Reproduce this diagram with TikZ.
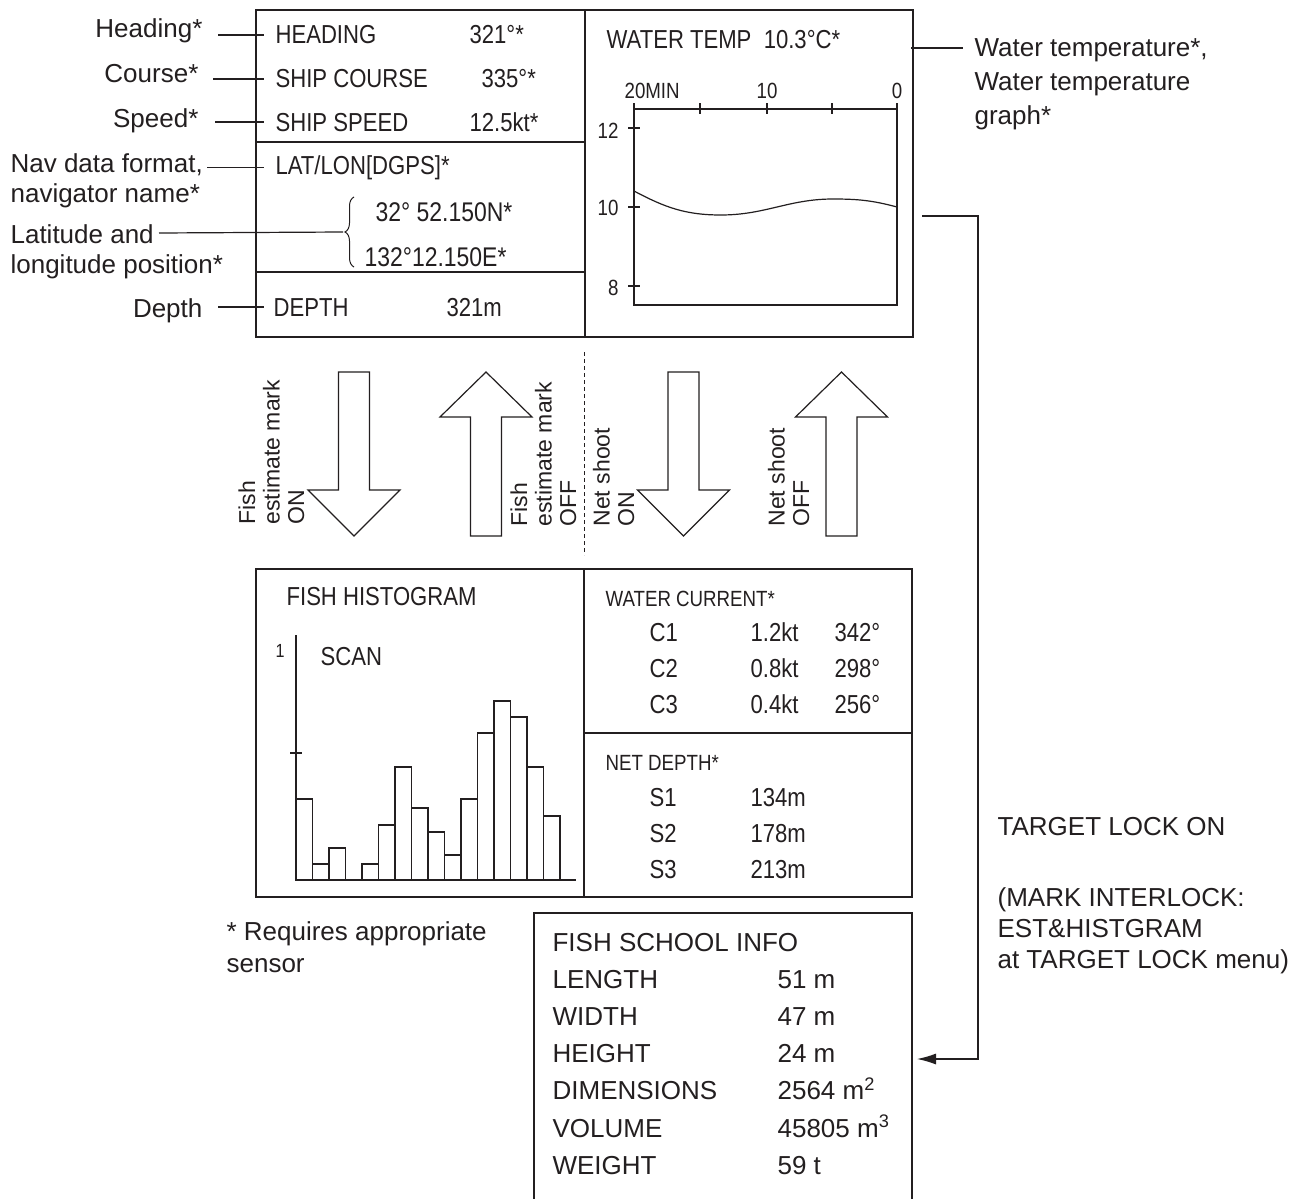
\documentclass[tikz,border=0pt]{standalone}
\usepackage{fontspec}
\setmainfont{Liberation Sans}
\newfontfamily\narrowfont[FakeStretch=0.85]{Liberation Sans}
\usepackage{xcolor}
\usepackage{tikz}
\usetikzlibrary{arrows.meta,positioning,decorations.pathreplacing}
\definecolor{inkgray}{RGB}{35,31,32}

\begin{document}
\begin{tikzpicture}[x=1pt,y=-1pt,>={Latex[length=19pt,width=11pt]},line width=1.2pt,color=inkgray,
  lbl/.style={font=\fontsize{26}{30}\selectfont,inner sep=0pt},
  pnl/.style={font=\narrowfont\fontsize{26}{30}\selectfont,inner sep=0pt,anchor=base west},
  sml/.style={font=\narrowfont\fontsize{22}{26}\selectfont,inner sep=0pt},
  rot/.style={font=\fontsize{23}{24.5}\selectfont,inner sep=0pt,rotate=90,anchor=south west,align=left},
  info/.style={font=\fontsize{26}{30}\selectfont,inner sep=0pt,anchor=base west}]
  \fill[white] (0,0) rectangle (1315,1199);
  \useasboundingbox (0,0) rectangle (1315,1199);

  % upper display
  \draw (256,10) rectangle (913,337);
  \draw (585,10) -- (585,337);
  \draw (256,142) -- (585,142) (256,272) -- (585,272);
  \node[pnl] (thead) at (275,44) {HEADING};
  \node[pnl] (vhead) at (469,44) {321°*};
  \node[pnl] (tcourse) at (275,88) {SHIP COURSE};
  \node[pnl] (vcourse) at (481,88) {335°*};
  \node[pnl] (tspeed) at (275,131) {SHIP SPEED};
  \node[pnl] (vspeed) at (469,131) {12.5kt*};
  \node[pnl] (tnav) at (275,174) {LAT/LON[DGPS]*};
  \node[pnl,font=\narrowfont\fontsize{27}{30}\selectfont] (tlat) at (375,221) {32° 52.150N*};
  \node[pnl,font=\narrowfont\fontsize{27}{30}\selectfont] (tlon) at (364,266) {132°12.150E*};
  \node[pnl] (tdepth) at (273,316) {DEPTH};
  \node[pnl] (vdepth) at (446,316) {321m};
  \draw[line width=1pt,decorate,decoration={brace,amplitude=9pt}] (354,267) -- (354,197)
    coordinate[pos=0.5,xshift=-11pt] (bracetip);

  \node[pnl] (twtemp) at (606,49) {WATER TEMP\ \ 10.3°C*};
  \draw (634,109) rectangle (897,305);
  \foreach \tx in {634,700,767,832,897} \draw (\tx,103) -- (\tx,114);
  \foreach \ty in {128,207,286} \draw (628,\ty) -- (640,\ty);
  \node[sml,anchor=base west] (tmin) at (624,99) {20MIN};
  \node[sml,anchor=base] (tten) at (767,99) {10};
  \node[sml,anchor=base] (tzero) at (897,99) {0};
  \node[sml,anchor=base east] (ttwelve) at (619,138) {12};
  \node[sml,anchor=base east] (tmid) at (619,215) {10};
  \node[sml,anchor=base east] (teight) at (619,295) {8};
  \draw (634,191) to[out=-28,in=180] (721,215) to[out=0,in=180] (833,199) to[out=0,in=165] (897,207);

  % callouts
  \node[lbl,anchor=base east] (lhead) at (203,38) {Heading*};
  \node[lbl,anchor=base east] (lcourse) at (199,83) {Course*};
  \node[lbl,anchor=base east] (lspeed) at (199,127) {Speed*};
  \node[lbl,anchor=north west,align=left] (lnav) at (10,153) {Nav data format,\\navigator name*};
  \node[lbl,anchor=north west,align=left] (llat) at (10,224) {Latitude and\\longitude position*};
  \node[lbl,anchor=base east] (ldepth) at (203,317) {Depth};
  \coordinate (latstart) at (159,233);
  \draw ([xshift=15pt]lhead.east |- thead.west) -- ([xshift=-11pt]thead.west);
  \draw ([xshift=14pt]lcourse.east |- tcourse.west) -- ([xshift=-11pt]tcourse.west);
  \draw ([xshift=16pt]lspeed.east |- tspeed.west) -- ([xshift=-11pt]tspeed.west);
  \draw ([xshift=4pt]lnav.east |- tnav.west) -- ([xshift=-11pt]tnav.west);
  \draw (latstart) -- (bracetip);
  \draw ([xshift=15pt]ldepth.east |- tdepth.west) -- ([xshift=-9pt]tdepth.west);

  \node[lbl,anchor=north west,align=left,font=\fontsize{26}{34}\selectfont] (lwtemp) at (974,38)
    {Water temperature*,\\Water temperature\\graph*};
  \coordinate (wtempedge) at (911,48);
  \draw (wtempedge) -- ([xshift=-11pt]wtempedge -| lwtemp.west);

  % mode switches
  \draw[line width=0.9pt,dash pattern=on 4pt off 3pt] (584,352) -- (584,555);
  \foreach \cx in {354,683.5}
    \draw[fill=white] (\cx-15.5,372) -- (\cx+15.5,372) -- (\cx+15.5,490) -- (\cx+46,490) -- (\cx,536)
      -- (\cx-46,490) -- (\cx-15.5,490) -- cycle;
  \foreach \cx in {486,841.5}
    \draw[fill=white] (\cx,372) -- (\cx+46,417) -- (\cx+15.5,417) -- (\cx+15.5,536) -- (\cx-15.5,536)
      -- (\cx-15.5,417) -- (\cx-46,417) -- cycle;
  \node[rot] (fishon) at (305,525) {Fish\\estimate mark\\ON};
  \node[rot] (fishoff) at (577,527) {Fish\\estimate mark\\OFF};
  \node[rot] (neton) at (635,527) {Net shoot\\ON};
  \node[rot] (netoff) at (810,527) {Net shoot\\OFF};

  % lower display
  \draw (256,569) rectangle (912,897);
  \draw (584,569) -- (584,897);
  \draw (584,733) -- (912,733);
  \node[pnl] (thisto) at (286,605) {FISH HISTOGRAM};
  \node[sml,anchor=base,font=\narrowfont\fontsize{19}{22}\selectfont] (tone) at (280,657) {1};
  \node[pnl] (tscan) at (320,665) {SCAN};
  \draw (296,635) -- (296,880) -- (576,880);
  \draw (290,753) -- (302,753);
  \foreach \i/\h in {0/799,1/864,2/848,4/864,5/825,6/767,7/808,8/832,9/855,10/799,11/733,12/701,13/717,14/767,15/816}
    \draw[line width=1.1pt] (296+16.5*\i,880) rectangle (312.5+16.5*\i,\h);

  \node[sml,anchor=base west] (tcurrent) at (605,606) {WATER CURRENT*};
  \foreach \c/\v/\d [count=\i] in {C1/1.2kt/342°,C2/0.8kt/298°,C3/0.4kt/256°}{
    \node[pnl] (cname\i) at (649,606+35.7*\i) {\c};
    \node[pnl] (cspeed\i) at (750,606+35.7*\i) {\v};
    \node[pnl] (cdir\i) at (834,606+35.7*\i) {\d};
  }
  \node[sml,anchor=base west] (tnetdepth) at (605,770) {NET DEPTH*};
  \foreach \s/\v [count=\i] in {S1/134m,S2/178m,S3/213m}{
    \node[pnl] (sname\i) at (649,770+36*\i) {\s};
    \node[pnl] (sdepth\i) at (750,770+36*\i) {\v};
  }

  \node[lbl,anchor=north west,align=left,font=\fontsize{26}{32}\selectfont] (lnote) at (226,921)
    {* Requires appropriate\\sensor};

  % fish school info
  \draw (534,1199) -- (534,913) -- (912,913) -- (912,1199);
  \node[info] (schooltitle) at (552,951) {FISH SCHOOL INFO};
  \foreach \n/\v [count=\i] in {LENGTH/51 m,WIDTH/47 m,HEIGHT/24 m,DIMENSIONS/{2564 m\textsuperscript{2}},
      VOLUME/{45805 m\textsuperscript{3}},WEIGHT/59 t}{
    \node[info] (rowname\i) at (552,951+37.2*\i) {\n};
    \node[info] (rowval\i) at (777,951+37.2*\i) {\v};
  }

  % target lock
  \coordinate (tempout) at (922,216);
  \coordinate (schoolin) at (917,1059);
  \draw[->] (tempout) -- ++(56,0) |- (schoolin);
  \node[info] (ltarget) at (997,835) {TARGET LOCK ON};
  \node[lbl,anchor=north west,align=left,font=\fontsize{26}{31}\selectfont] (linterlock) at (997,887)
    {(MARK INTERLOCK:\\EST\&HISTGRAM\\at TARGET LOCK menu)};
\end{tikzpicture}
\end{document}
